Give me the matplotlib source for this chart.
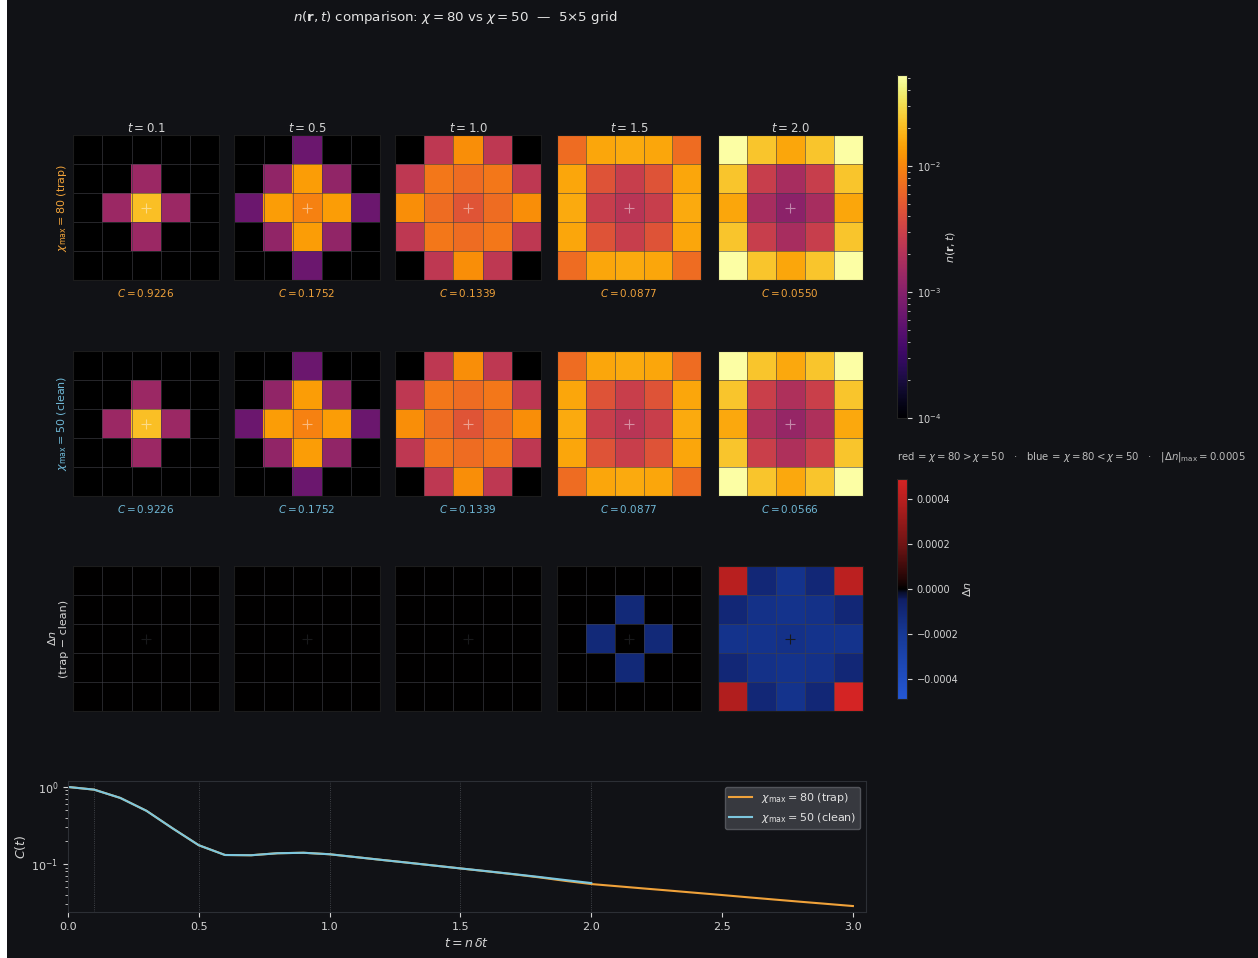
import numpy as np
import matplotlib

matplotlib.use("Agg")
import matplotlib.pyplot as plt
from matplotlib.colors import LogNorm, Normalize, LinearSegmentedColormap
from matplotlib.cm import ScalarMappable
from matplotlib.patches import Rectangle
from matplotlib.ticker import FuncFormatter

# snapshot times and the 5x5 density grids (shell values: centre, nn, diag, 2nd, knight, corner)
snap_times = [0.1, 0.5, 1.0, 1.5, 2.0]
shell_index = [
    [5, 4, 3, 4, 5],
    [4, 2, 1, 2, 4],
    [3, 1, 0, 1, 3],
    [4, 2, 1, 2, 4],
    [5, 4, 3, 4, 5],
]
n_trap_shells = [
    [0.021, 0.0014, 1e-6, 1e-6, 1e-6, 1e-6],
    [0.0093, 0.0135, 0.0012, 0.00066, 1e-6, 1e-6],
    [0.0046, 0.0068, 0.0081, 0.0112, 0.00245, 1e-6],
    [0.0022, 0.0028, 0.0045, 0.0162, 0.0153, 0.0068],
    [0.00109, 0.0017, 0.0028, 0.0153, 0.0223, 0.0525],
]

# trap - clean differences (zero for the early snapshots)
diff_t15 = [
    [0, 0, 0, 0, 0],
    [0, 0, -1.1e-4, 0, 0],
    [0, -1.1e-4, 0, -1.1e-4, 0],
    [0, 0, -1.1e-4, 0, 0],
    [0, 0, 0, 0, 0],
]
diff_t20 = [
    [4.0e-4, -1.0e-4, -1.7e-4, -1.0e-4, 4.1e-4],
    [-1.0e-4, -1.6e-4, -1.7e-4, -1.6e-4, -1.0e-4],
    [-1.7e-4, -1.7e-4, -1.6e-4, -1.7e-4, -1.7e-4],
    [-1.0e-4, -1.6e-4, -1.7e-4, -1.6e-4, -1.0e-4],
    [3.8e-4, -1.0e-4, -1.7e-4, -1.0e-4, 4.9e-4],
]
diff_grids = [np.zeros((5, 5)), np.zeros((5, 5)), np.zeros((5, 5)),
              np.array(diff_t15), np.array(diff_t20)]

# return probability C(t)
t_trap = [round(0.1 * k, 1) for k in range(31)]
C_trap = [1.0, 0.9226, 0.72, 0.49, 0.29, 0.1752, 0.131, 0.130, 0.138, 0.140,
          0.1339, 0.123, 0.113, 0.104, 0.0955, 0.0877, 0.0805, 0.0738, 0.0672, 0.0605,
          0.0550, 0.0515, 0.0482, 0.0452, 0.0423, 0.0396, 0.0370, 0.0346, 0.0324, 0.0304,
          0.0285]
t_clean = t_trap[:21]
C_clean = [1.0, 0.9226, 0.72, 0.49, 0.29, 0.1752, 0.131, 0.130, 0.138, 0.140,
           0.1339, 0.123, 0.113, 0.104, 0.0955, 0.0877, 0.0808, 0.0742, 0.0680, 0.0620,
           0.0566]

BG = "#111216"
TXT = "#d4d4d4"
ORANGE = "#f0a23a"
BLUE = "#6fb8d6"
W, H = 1258, 958


def rect(x, y, w, h):
    return [x / W, 1 - (y + h) / H, w / W, h / H]


n_norm = LogNorm(vmin=1e-4, vmax=0.0525)
n_cmap = plt.get_cmap("inferno").copy()
n_cmap.set_under("black")

dlim = float(np.max([np.abs(d).max() for d in diff_grids]))
d_norm = Normalize(vmin=-dlim, vmax=dlim)
d_cmap = LinearSegmentedColormap.from_list("bkr", [
    (0.0, "#2457d4"), (0.3, "#163894"), (0.45, "#101f66"), (0.49, "#060a20"),
    (0.5, "#000000"), (0.55, "#250606"), (0.7, "#6e1414"), (0.9, "#b51f1f"),
    (1.0, "#d42424"),
])

fig = plt.figure(figsize=(W / 100, H / 100), dpi=100, facecolor=BG)
fig.add_artist(Rectangle((0, 0), 7 / W, 1, transform=fig.transFigure,
                         facecolor="white", edgecolor="none"))

fig.text(455 / W, 1 - 17 / H,
         r"$n(\mathbf{r},t)$ comparison: $\chi = 80$ vs $\chi = 50$  —  5×5 grid",
         ha="center", va="center", fontsize=9.6, color="#e4e4e4")

col_x = [73, 234, 395, 556, 717]
row_y = [135, 351, 566]


def draw_cells(ax, grid, cmap, norm, marker_color):
    ax.imshow(grid, cmap=cmap, norm=norm, interpolation="nearest")
    for k in np.arange(0.5, 4.5, 1.0):
        ax.axhline(k, color="#404048", lw=0.7, alpha=0.6)
        ax.axvline(k, color="#404048", lw=0.7, alpha=0.6)
    ax.plot(2, 2, marker="+", ms=7, mew=0.8, color=marker_color)
    ax.set_xticks([])
    ax.set_yticks([])
    for sp in ax.spines.values():
        sp.set_color("#1c1c1c")


for j, t in enumerate(snap_times):
    trap = np.array(n_trap_shells[j])[np.array(shell_index)]
    clean = trap - diff_grids[j]
    idx = t_trap.index(t)

    ax = fig.add_axes(rect(col_x[j], row_y[0], 146, 145))
    draw_cells(ax, trap, n_cmap, n_norm, (1, 1, 1, 0.45))
    ax.set_title(f"$t = {t}$", fontsize=8.5, color=TXT, pad=2)
    ax.set_xlabel(f"$C = {C_trap[idx]:.4f}$", fontsize=7.5, color=ORANGE, labelpad=5)
    if j == 0:
        ax.set_ylabel(r"$\chi_{\rm max} = 80$ (trap)", fontsize=8, color=ORANGE, labelpad=3)

    ax = fig.add_axes(rect(col_x[j], row_y[1], 146, 145))
    draw_cells(ax, clean, n_cmap, n_norm, (1, 1, 1, 0.45))
    ax.set_xlabel(f"$C = {C_clean[idx]:.4f}$", fontsize=7.5, color=BLUE, labelpad=5)
    if j == 0:
        ax.set_ylabel(r"$\chi_{\rm max} = 50$ (clean)", fontsize=8, color=BLUE, labelpad=3)

    ax = fig.add_axes(rect(col_x[j], row_y[2], 146, 145))
    draw_cells(ax, diff_grids[j], d_cmap, d_norm, "#18191b")
    if j == 0:
        ax.set_ylabel("$\\Delta n$\n(trap − clean)", fontsize=8, color=TXT, labelpad=3)

# colour bars
cax = fig.add_axes(rect(897, 75, 10, 343))
cb = fig.colorbar(ScalarMappable(norm=n_norm, cmap=n_cmap), cax=cax)
cb.set_label(r"$n(\mathbf{r},t)$", fontsize=8, color=TXT, labelpad=2)
cb.ax.tick_params(labelsize=7, colors=TXT, which="both")
cb.outline.set_edgecolor("#222222")

fig.text(897 / W, 1 - 457 / H,
         r"red = $\chi = 80 > \chi = 50$   ·   blue = $\chi = 80 < \chi = 50$   ·   "
         + rf"$|\Delta n|_{{\rm max}} = {dlim:.4f}$",
         ha="left", va="center", fontsize=7.3, color="#bdbdbd")

dax = fig.add_axes(rect(897, 479, 10, 220))
db = fig.colorbar(ScalarMappable(norm=d_norm, cmap=d_cmap), cax=dax)
db.set_ticks([-0.0004, -0.0002, 0.0, 0.0002, 0.0004])
db.ax.yaxis.set_major_formatter(
    FuncFormatter(lambda v, _: f"{abs(v):.4f}" if abs(v) < 1e-12 else f"{v:.4f}".replace("-", "\u2212")))
db.set_label(r"$\Delta n$", fontsize=8, color=TXT, labelpad=2)
db.ax.tick_params(labelsize=7, colors=TXT)
db.outline.set_edgecolor("#222222")

# C(t) curves
bax = fig.add_axes(rect(68, 781, 798, 131))
bax.set_facecolor(BG)
for t in snap_times:
    bax.axvline(t, color="#55585e", lw=0.6, ls=":", alpha=0.9)
bax.plot(t_trap, C_trap, color=ORANGE, lw=1.5, label=r"$\chi_{\rm max} = 80$ (trap)")
bax.plot(t_clean, C_clean, color="#7cc6de", lw=1.5, label=r"$\chi_{\rm max} = 50$ (clean)")
bax.set_yscale("log")
bax.set_xlim(0, 3.05)
bax.set_xlabel(r"$t = n\,\delta t$", fontsize=9, color=TXT)
bax.set_ylabel(r"$C(t)$", fontsize=9, color=TXT, labelpad=2)
bax.tick_params(labelsize=8, colors=TXT, which="both")
for sp in bax.spines.values():
    sp.set_color("#2c2f35")
leg = bax.legend(loc="upper right", fontsize=8, facecolor="#3a3c42",
                 edgecolor="#56585e", framealpha=0.95)
for txt in leg.get_texts():
    txt.set_color("#e0e0e0")

fig.savefig("out.png", dpi=100, facecolor=BG)
